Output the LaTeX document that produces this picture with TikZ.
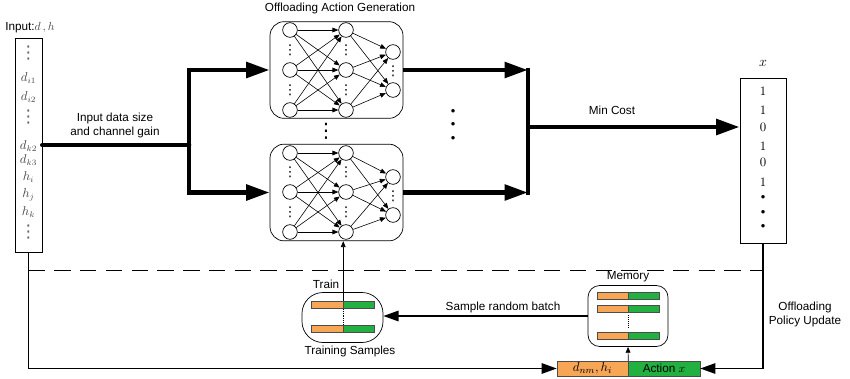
\documentclass[tikz,border=0pt]{standalone}
\usepackage{fontspec}
\setmainfont{Liberation Sans}
\newfontfamily\symfont{DejaVu Sans}
\usepackage{tikz}
\usetikzlibrary{arrows.meta}
\definecolor{txtgrey}{RGB}{70,70,70}
\definecolor{barorange}{RGB}{247,166,86}
\definecolor{bargreen}{RGB}{34,176,64}

\begin{document}
\begin{tikzpicture}[x=0.03cm, y=-0.03cm, font=\fontsize{10}{12}\selectfont, line width=0.6pt,
  neuron/.style={draw,circle,minimum size=0.44cm,inner sep=0pt},
  nnbox/.style={draw,rounded corners=12pt,minimum width=3.99cm,minimum height=2.9cm},
  link/.style={line width=0.5pt,-{Triangle[length=5pt,width=4pt]}},
  fatline/.style={line width=4pt},
  fatarrow/.style={line width=4pt,-{Triangle[length=20pt,width=13pt]}},
  medarrow/.style={line width=1.2pt,-{Triangle[length=13pt,width=9pt]}},
  smallarrow/.style={line width=0.6pt,-{Triangle[length=5pt,width=4pt]}},
  vdotsbig/.style={inner sep=0pt,font=\symfont\fontsize{15}{15}\selectfont},
  vdotssmall/.style={inner sep=0pt,font=\symfont\fontsize{11.5}{11.5}\selectfont},
  bullettxt/.style={inner sep=0pt,font=\fontsize{11}{11}\selectfont},
  obar/.style={draw=black!70,fill=barorange,minimum height=0.22cm,inner sep=0pt,line width=0.4pt},
  gbar/.style={draw=black!70,fill=bargreen,minimum height=0.22cm,inner sep=0pt,line width=0.4pt},
  vecbox/.style={draw,minimum width=0.81cm,inner sep=0pt},
  entry/.style={text=txtgrey,inner sep=0pt,font=\fontsize{10.5}{12}\selectfont}]
  \useasboundingbox (0,0) rectangle (850,378);

  % input vector
  \node[vecbox,minimum height=6.42cm] (inp) at (28.5,145) {};
  \node (inlabel) at (30,28) {Input:\textcolor{txtgrey}{$d\,,h$}};
  \foreach \y/\t in {78/d_{i1}, 97/d_{i2}, 146/d_{k2}, 160/d_{k3}, 177/h_i, 195/h_j, 212/h_k}
    \node[entry] (e\y) at (28.5,\y) {$\t$};
  \foreach \y in {53,117,232}
    \node[vdotsbig,text=black!60] (idots\y) at (28.5,\y) {⋮};
  \node[align=center] (inlbl) at (115,125) {Input data size\\and channel gain};

  % DNNs
  \node (title) at (340,8) {Offloading Action Generation};
  \node[nnbox] (nnA) at (336.5,70) {};
  \node[nnbox] (nnB) at (336.5,192.5) {};
  \foreach \r [count=\i] in {30,70,110} {
    \node[neuron] (a1\i) at (290,\r) {};
    \node[neuron] (a2\i) at (346,\r) {};
  }
  \foreach \r [count=\i] in {52,90}
    \node[neuron] (a3\i) at (393,\r) {};
  \foreach \r [count=\i] in {153,192,232} {
    \node[neuron] (b1\i) at (290,\r) {};
    \node[neuron] (b2\i) at (346,\r) {};
  }
  \foreach \r [count=\i] in {177,215}
    \node[neuron] (b3\i) at (393,\r) {};
  \foreach \i in {1,2,3} {
    \foreach \j in {1,2,3} {
      \draw[link] (a1\i) -- (a2\j);
      \draw[link] (b1\i) -- (b2\j);
    }
    \foreach \j in {1,2} {
      \draw[link] (a2\i) -- (a3\j);
      \draw[link] (b2\i) -- (b3\j);
    }
  }
  % dots between neurons
  \foreach \x/\y in {290/50,290/90,290/172.5,290/212,346/50,346/90,346/172.5,346/212,393/71,393/196}
    \node[vdotssmall] (nd\x\y) at (\x,\y) {⋮};
  \node[inner sep=0pt,font=\symfont\fontsize{17}{17}\selectfont] (md) at (326,131) {⋮};

  % forks
  \coordinate (fork) at (189,145);
  \draw[fatline,line cap=round] (inp.east) -- (fork);
  \draw[fatarrow] (fork) |- (nnA.west);
  \draw[fatarrow] (fork) |- (nnB.west);
  \coordinate (mergeT) at (528,70);
  \coordinate (mergeB) at (528,192.5);
  \coordinate (merge) at (528,127);
  \draw[fatarrow] (nnA.east) -- (mergeT);
  \draw[fatarrow] (nnB.east) -- (mergeB);
  \draw[fatline,line cap=rect] (mergeT) -- (mergeB);
  \foreach \y [count=\k] in {112,125,139}
    \node[bullettxt] (rd\k) at (453,\y) {\textbullet};

  % output vector
  \node[vecbox,minimum width=1.38cm,minimum height=4.95cm] (out) at (763,160.5) {};
  \node[font=\fontsize{12}{12}\selectfont] (xlabel) at (763,63) {$x$};
  \foreach \y/\v in {91/1,110/1,127/0,146/1,162/0,182/1}
    \node[font=\fontsize{11}{12}\selectfont,inner sep=1pt] (o\y) at (763,\y) {$\v$};
  \foreach \y in {198,213,227}
    \node[bullettxt] (ob\y) at (763,\y) {\textbullet};
  \draw[fatarrow] (merge) -- (merge -| out.west);
  \node (mincost) at (612,110) {Min Cost};

  % dashed separator
  \coordinate (dashL) at (28.5,270);
  \coordinate (dashR) at (763,270);
  \draw[dash pattern=on 14pt off 8pt] (dashL) -- (dashR);

  % replay memory
  \node[obar,minimum width=2.13cm,minimum height=0.45cm,font=\fontsize{11}{12}\selectfont] (pairbar) at (592.5,368.5) {$d_{nm},h_i$};
  \node[gbar,minimum width=2.16cm,minimum height=0.45cm] (actbar) at (664,368.5) {Action $x$};
  \draw[medarrow] (inp.south) |- (pairbar.west);
  \draw[medarrow] (out.south) |- (actbar.east);
  \node[align=center] (opu) at (805,314.5) {Offloading\\Policy Update};

  \node[draw,rounded corners=10pt,minimum width=2.4cm,minimum height=1.83cm] (mem) at (628,316) {};
  \node (memlbl) at (628,277) {Memory};
  \foreach \y [count=\k] in {295.5,309,335.5} {
    \node[obar,minimum width=0.93cm] (mo\k) at (612.5,\y) {};
    \node[gbar,minimum width=0.93cm] (mg\k) at (643.5,\y) {};
  }
  \draw[densely dotted,shorten <=2pt,shorten >=4pt] (mo2.south east) -- (mo3.north east);
  \draw[smallarrow] (pairbar.north east) -- (mem.south);

  % training samples
  \node[draw,rounded corners=18pt,minimum width=2.43cm,minimum height=1.5cm] (ts) at (342.5,317.5) {};
  \foreach \y [count=\k] in {305,329} {
    \node[obar,minimum width=0.96cm] (to\k) at (327,\y) {};
    \node[gbar,minimum width=0.93cm] (tg\k) at (358.5,\y) {};
  }
  \draw[densely dotted] (to1.south east) -- (to2.north east);
  \node (trainlbl) at (326,284) {Train};
  \node (tslbl) at (350,351) {Training Samples};
  \draw[smallarrow] (to1.north east) -- (to1.north east |- nnB.south);
  \draw[medarrow] (mem.west) -- (ts.east |- mem.west);
  \node (srb) at (503,307) {Sample random batch};
\end{tikzpicture}
\end{document}
